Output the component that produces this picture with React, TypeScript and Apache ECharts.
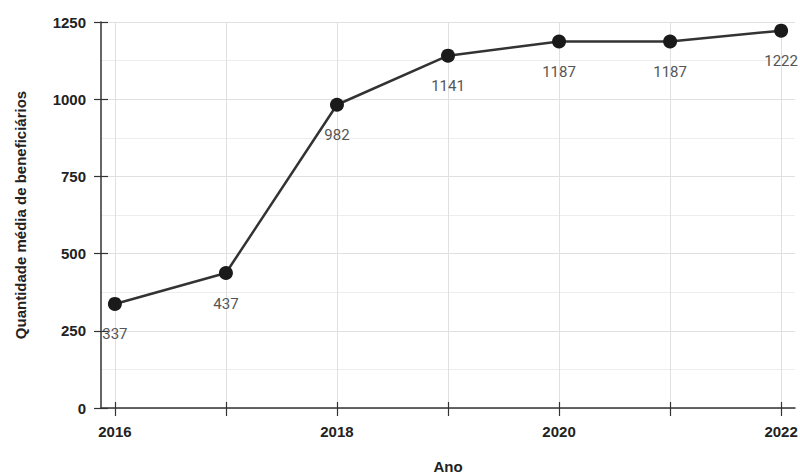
import React, { useEffect, useRef } from "react";
import * as echarts from "echarts";

const years = [2016, 2017, 2018, 2019, 2020, 2021, 2022];
const values = [337, 437, 982, 1141, 1187, 1187, 1222];
const labelYears = [2016, 2018, 2020, 2022];

const axisFont = { fontFamily: "Liberation Sans", fontWeight: "bold" as const, fontSize: 15, color: "#222" };

export default function App() {
  const ref = useRef<HTMLDivElement>(null);
  useEffect(() => {
    document.body.style.margin = "0";
    const chart = echarts.init(ref.current!, null, { renderer: "svg" });
    const xBase = { type: "value", min: 2015.875, max: 2022.125 };
    const yBase = { type: "value", min: 0, max: 1250, interval: 250 };
    chart.setOption({
      animation: false,
      backgroundColor: "#ffffff",
      grid: { left: 101, right: 5, top: 22, bottom: 67, containLabel: false, outerBoundsMode: "none" },
      xAxis: [
        {
          ...xBase,
          name: "Ano",
          nameLocation: "middle",
          nameGap: 51,
          nameTextStyle: { ...axisFont },
          axisLine: { show: true, lineStyle: { color: "#333", width: 1.5 } },
          axisTick: { show: true, length: 8, inside: false, customValues: years, lineStyle: { color: "#333", width: 1.2 } },
          axisLabel: {
            customValues: labelYears,
            margin: 16,
            ...axisFont,
            formatter: (v: number) => String(Math.round(v)),
          },
          splitLine: { show: true, lineStyle: { color: "#e0e0e0", width: 1 } },
        },
        {
          ...xBase,
          position: "bottom",
          axisLine: { show: false },
          axisTick: { show: true, length: 6, inside: true, customValues: years, lineStyle: { color: "#333", width: 1.2 } },
          axisLabel: { show: false },
          splitLine: { show: false },
        },
      ],
      yAxis: [
        {
          ...yBase,
          name: "Quantidade média de beneficiários",
          nameLocation: "middle",
          nameGap: 73,
          nameTextStyle: { ...axisFont },
          axisLine: { show: true, lineStyle: { color: "#333", width: 1.5 } },
          axisTick: { show: true, length: 7, lineStyle: { color: "#333", width: 1.2 } },
          axisLabel: {
            margin: 15,
            ...axisFont,
            formatter: (v: number) => String(v),
          },
          splitLine: { show: true, lineStyle: { color: "#e0e0e0", width: 1.2 } },
          minorTick: { show: false, splitNumber: 2 },
          minorSplitLine: { show: true, lineStyle: { color: "#ededed", width: 1 } },
        },
        {
          ...yBase,
          position: "left",
          axisLine: { show: false },
          axisTick: { show: true, length: 7, inside: true, lineStyle: { color: "#333", width: 1.2 } },
          axisLabel: { show: false },
          splitLine: { show: false },
        },
      ],
      series: [
        {
          type: "line",
          xAxisIndex: 0,
          yAxisIndex: 0,
          data: years.map((y, i) => [y, values[i]]),
          symbol: "circle",
          symbolSize: 14,
          itemStyle: { color: "#1a1a1a" },
          lineStyle: { color: "#333", width: 2.5 },
          label: {
            show: true,
            position: "bottom",
            distance: 16,
            fontFamily: "Roboto",
            fontSize: 15,
            color: "#555",
            formatter: (p: any) => String(p.value[1]),
          },
        },
      ],
    });
    return () => chart.dispose();
  }, []);
  return <div ref={ref} style={{ width: 800, height: 475 }} />;
}
